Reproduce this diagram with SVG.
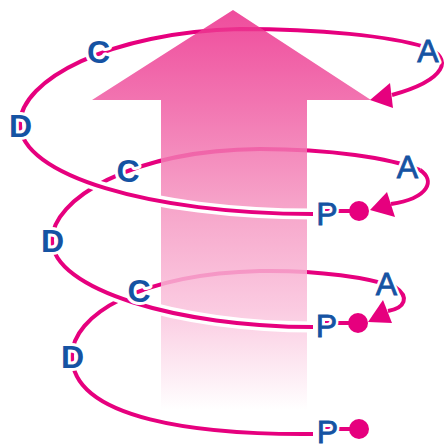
<svg xmlns="http://www.w3.org/2000/svg" width="446" height="448" viewBox="0 0 446 448">
  <defs>
    <linearGradient id="shaftFill" gradientUnits="userSpaceOnUse" x1="0" y1="10" x2="0" y2="410">
      <stop offset="0" stop-color="#ec2d8b"/>
      <stop offset="0.25" stop-color="#f060a5"/>
      <stop offset="0.5" stop-color="#f596c1"/>
      <stop offset="0.75" stop-color="#fac2dc"/>
      <stop offset="1" stop-color="#ffffff"/>
    </linearGradient>
  </defs>
  <style>
    .line { fill: none; stroke: #e6007e; stroke-width: 4; stroke-linecap: butt; }
    .halo { fill: none; stroke: #ffffff; stroke-width: 11; }
    .head { fill: #e6007e; }
    .lbl { font-family: "Liberation Sans", Arial, sans-serif; font-size: 32px; text-anchor: middle; fill: #1553a3; }
    .lbl-bg { font-family: "Liberation Sans", Arial, sans-serif; font-size: 32px; text-anchor: middle; fill: none; stroke: #ffffff; stroke-width: 6; stroke-linejoin: round; }
    .bold { font-weight: bold; }
    .thin { stroke: #1553a3; stroke-width: 0.8; }
  </style>

  <!-- rear halves of the three loops (behind the arrow) -->
  <g id="connectors-back">
    <path class="line" d="M20,124 C20,80 110,32 240,29 C320,29 390,36 425,47"/>
    <path class="line" d="M52,240 C52,200 130,150 260,149 C330,149 390,158 420,170"/>
    <path class="line" d="M72,356 C72,315 140,274 260,271 C320,270 370,278 395,287"/>
  </g>

  <!-- rising arrow -->
  <g id="arrow" opacity="0.85">
    <path d="M233,10 L371,100 L307,100 L307,410 L161,410 L161,100 L92,100 Z" fill="url(#shaftFill)"/>
  </g>

  <!-- front halves and return arrows -->
  <g id="connectors-front">
    <path class="halo" d="M313,214 C150,214 20,175 20,124"/>
    <path class="line" d="M313,214 C150,214 20,175 20,124"/>
    <path class="halo" d="M313,327 C180,327 52,290 52,240"/>
    <path class="line" d="M313,327 C180,327 52,290 52,240"/>
    <path class="halo" d="M313,434 C200,435 72,420 72,356"/>
    <path class="line" d="M313,434 C200,435 72,420 72,356"/>

    <path class="line" d="M425,47 C455,58 446,80 392,95"/>
    <polygon class="head" points="370,100 390,83 393,108"/>
    <path class="line" d="M420,170 C435,180 430,198 391,204"/>
    <polygon class="head" points="370,210 387,192 395,217"/>
    <path class="line" d="M395,287 C410,297 405,308 388,311"/>
    <polygon class="head" points="368,322 383,300 392,323"/>

    <path class="line" d="M325,211 H359"/>
    <path class="line" d="M325,323 H358"/>
    <path class="line" d="M325,429 H359"/>
  </g>

  <g id="node-p1"><circle class="head" cx="359" cy="211" r="10"/><text class="lbl-bg" x="327" y="225">P</text><text class="lbl thin" x="327" y="225">P</text></g>
  <g id="node-d1"><text class="lbl-bg bold" x="20.5" y="137">D</text><text class="lbl bold" x="20.5" y="137">D</text></g>
  <g id="node-c1"><text class="lbl-bg bold" x="98.5" y="63">C</text><text class="lbl bold" x="98.5" y="63">C</text></g>
  <g id="node-a1"><text class="lbl-bg" x="428" y="62">A</text><text class="lbl thin" x="428" y="62">A</text></g>

  <g id="node-p2"><circle class="head" cx="358" cy="323" r="10"/><text class="lbl-bg" x="326.5" y="337">P</text><text class="lbl thin" x="326.5" y="337">P</text></g>
  <g id="node-d2"><text class="lbl-bg bold" x="52.5" y="252">D</text><text class="lbl bold" x="52.5" y="252">D</text></g>
  <g id="node-c2"><text class="lbl-bg bold" x="128" y="182">C</text><text class="lbl bold" x="128" y="182">C</text></g>
  <g id="node-a2"><text class="lbl-bg" x="407.5" y="178">A</text><text class="lbl thin" x="407.5" y="178">A</text></g>

  <g id="node-p3"><circle class="head" cx="359" cy="429" r="10"/><text class="lbl-bg" x="327.5" y="443">P</text><text class="lbl thin" x="327.5" y="443">P</text></g>
  <g id="node-d3"><text class="lbl-bg bold" x="72.5" y="368">D</text><text class="lbl bold" x="72.5" y="368">D</text></g>
  <g id="node-c3"><text class="lbl-bg bold" x="139" y="302">C</text><text class="lbl bold" x="139" y="302">C</text></g>
  <g id="node-a3"><text class="lbl-bg" x="386.5" y="295">A</text><text class="lbl thin" x="386.5" y="295">A</text></g>
</svg>
